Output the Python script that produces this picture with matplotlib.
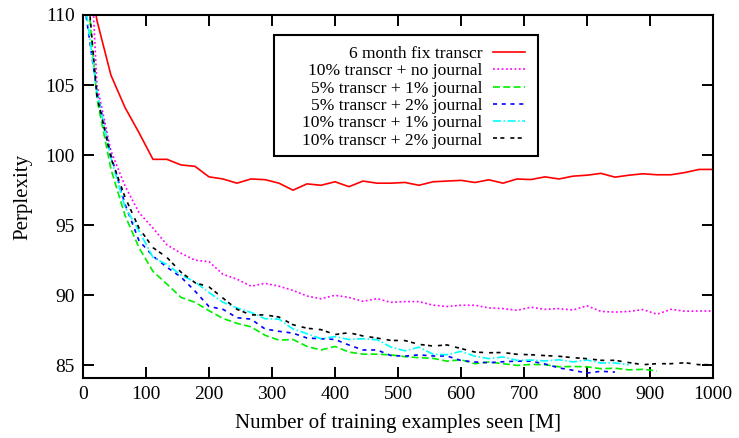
import numpy as np
import matplotlib
matplotlib.use("Agg")
import matplotlib.pyplot as plt
from matplotlib.patches import Rectangle

plt.rcParams['font.family'] = ['Liberation Serif', 'DejaVu Serif']
plt.rcParams['lines.scale_dashes'] = False

# training examples seen [M], one sample every 1000/45 M
examples = [0, 22.2, 44.4, 66.7, 88.9, 111.1, 133.3, 155.6, 177.8, 200,
            222.2, 244.4, 266.7, 288.9, 311.1, 333.3, 355.6, 377.8, 400, 422.2,
            444.4, 466.7, 488.9, 511.1, 533.3, 555.6, 577.8, 600, 622.2, 644.4,
            666.7, 688.9, 711.1, 733.3, 755.6, 777.8, 800, 822.2, 844.4, 866.7,
            888.9, 911.1, 933.3, 955.6, 977.8, 1000]

fix_6month = [115.2, 109.6, 105.7, 103.4, 101.6, 99.7, 99.7, 99.3, 99.2, 98.45,
              98.3, 98.0, 98.3, 98.25, 98.0, 97.5, 97.95, 97.85, 98.1, 97.75,
              98.15, 98.0, 98.0, 98.05, 97.85, 98.1, 98.15, 98.2, 98.05, 98.24,
              98.0, 98.3, 98.26, 98.45, 98.3, 98.5, 98.57, 98.7, 98.43, 98.57,
              98.67, 98.6, 98.6, 98.76, 98.98, 98.98]

t10_j0 = [125.0, 105.0, 100.3, 97.8, 95.9, 94.8, 93.6, 93.0, 92.5, 92.4,
          91.5, 91.15, 90.65, 90.85, 90.65, 90.35, 89.95, 89.75, 90.0, 89.85,
          89.57, 89.76, 89.5, 89.55, 89.55, 89.3, 89.2, 89.29, 89.29, 89.1,
          89.05, 88.93, 89.15, 89.0, 89.05, 88.95, 89.25, 88.85, 88.8, 88.85,
          88.98, 88.65, 89.0, 88.86, 88.88, 88.88]

t5_j1 = [115.3, 104.0, 99.0, 95.7, 93.4, 91.7, 90.8, 89.85, 89.5, 88.9,
         88.35, 88.0, 87.75, 87.15, 86.8, 86.85, 86.35, 86.1, 86.35, 85.95,
         85.8, 85.8, 85.75, 85.62, 85.55, 85.5, 85.3, 85.4, 85.12, 85.24,
         85.12, 85.0, 85.07, 85.05, 84.9, 84.92, 84.9, 84.76, 84.8, 84.68,
         84.72, 84.6]

t5_j2 = [111.5, 104.5, 100.0, 96.5, 93.9, 92.8, 92.0, 91.3, 90.3, 89.2,
         89.0, 88.4, 88.3, 87.6, 87.43, 87.3, 86.95, 86.9, 86.85, 86.45,
         86.1, 86.1, 85.7, 85.66, 85.75, 85.67, 85.67, 85.35, 85.24, 85.19,
         85.26, 85.3, 85.3, 85.1, 84.82, 84.65, 84.45, 84.58, 84.52]

t10_j1 = [112.0, 104.5, 99.8, 96.3, 94.6, 92.7, 92.2, 91.45, 90.95, 90.2,
          89.5, 89.1, 88.78, 88.33, 88.3, 87.6, 87.26, 86.9, 87.05, 86.85,
          86.9, 86.83, 86.3, 86.04, 86.3, 85.8, 85.76, 86.0, 85.65, 85.48,
          85.6, 85.36, 85.38, 85.32, 85.4, 85.25, 85.38, 85.17, 85.17, 85.05]

t10_j2 = [115.7, 104.2, 99.8, 97.0, 94.8, 93.4, 92.7, 91.65, 90.9, 90.6,
          89.8, 89.0, 88.6, 88.6, 88.45, 87.9, 87.65, 87.55, 87.2, 87.33,
          87.1, 86.95, 86.78, 86.77, 86.5, 86.38, 86.46, 86.2, 85.95, 85.9,
          85.92, 85.79, 85.76, 85.7, 85.65, 85.55, 85.48, 85.36, 85.36, 85.2,
          85.05, 85.12, 85.12, 85.19, 85.05, 85.05]

fig = plt.figure(figsize=(7.39, 4.38), dpi=100)
ax = fig.add_axes([0.1123, 0.137, 0.8525, 0.8288])

lw = 1.2
ax.plot(examples, fix_6month, color='#ff0000', lw=lw, label='6 month fix transcr')
ax.plot(examples[:len(t10_j0)], t10_j0, color='#ff00ff', lw=lw,
        dashes=(1.3, 1.8), label='10% transcr + no journal')
ax.plot(examples[:len(t5_j1)], t5_j1, color='#00ee00', lw=lw,
        dashes=(5.0, 2.4), label='5% transcr + 1% journal')
ax.plot(examples[:len(t5_j2)], t5_j2, color='#0000ff', lw=lw,
        dashes=(2.9, 3.4), label='5% transcr + 2% journal')
ax.plot(examples[:len(t10_j1)], t10_j1, color='#00ffff', lw=lw,
        dashes=(5.8, 1.8, 1.1, 1.8), label='10% transcr + 1% journal')
ax.plot(examples[:len(t10_j2)], t10_j2, color='#000000', lw=lw,
        dashes=(2.9, 2.4, 2.9, 4.3), label='10% transcr + 2% journal')

ax.set_xlim(0, 1000)
ax.set_ylim(84.1, 110)
ax.set_xticks(np.arange(0, 1001, 100))
ax.set_yticks(np.arange(85, 111, 5))
ax.tick_params(direction='in', length=7.7, width=1.4, top=True, right=True,
               labelsize=14, pad=6)
for s in ax.spines.values():
    s.set_linewidth(1.5)

ax.set_xlabel('Number of training examples seen [M]', fontsize=15, labelpad=7)
ax.set_ylabel('Perplexity', fontsize=15, labelpad=9)

# gnuplot style key: boxed, wide left margin, text right-aligned
ax.add_patch(Rectangle((0.3037, 0.6116), 0.419, 0.3334, transform=ax.transAxes,
                       facecolor='white', edgecolor='black', lw=1.5, zorder=4))
leg = ax.legend(loc='upper right', bbox_to_anchor=(0.702, 0.915),
                borderaxespad=0, borderpad=0, frameon=False, markerfirst=False,
                fontsize=12.6, handlelength=1.85, handletextpad=0.6,
                labelspacing=0.06)
leg.set_zorder(5)
for col in leg._legend_handle_box.get_children():
    col.align = 'right'

fig.savefig('out.png', dpi=100)
